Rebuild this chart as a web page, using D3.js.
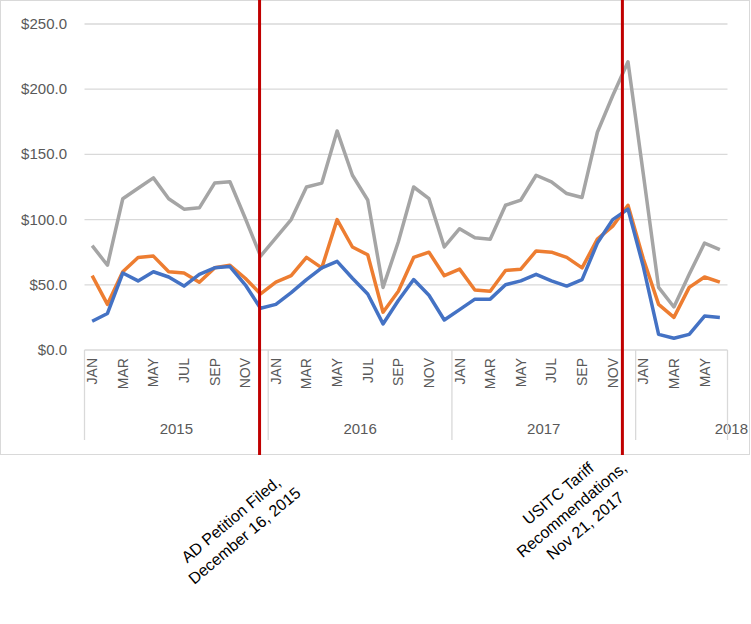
<!DOCTYPE html>
<html><head><meta charset="utf-8">
<script src="https://cdn.jsdelivr.net/npm/d3@7"></script>
<style>body{margin:0;background:#fff}text{font-family:"Liberation Sans",Arial,sans-serif;fill:#595959}</style>
</head><body><svg id="c" width="751" height="624"></svg>
<script>
var years = ["2015", "2016", "2017", "2018"];
var monthNames = ["JAN","FEB","MAR","APR","MAY","JUN","JUL","AUG","SEP","OCT","NOV","DEC"];
var gray = [80,65,116,124,132,116,108,109,128,129,101,72, 86,100,125,128,168,134,115,48,83,125,116,79, 93,86,85,111,115,134,129,120,117,167,195,221, 135,48,33,58,82,77];
var orange = [57,35,60,71,72,60,59,52,63,65,55,43, 52,57,71,63,100,79,73,29,45,71,75,57, 62,46,45,61,62,76,75,71,63,85,95,111, 70,35,25,48,56,52];
var blue = [22,28,59,53,60,56,49,58,63,64,50,32, 35,44,54,63,68,55,43,20,38,54,42,23, 31,39,39,50,53,58,53,49,54,82,100,108, 64,12,9,12,26,25];
var yTicks = [0,50,100,150,200,250];
var events = [
  {idx: 11, lines: ["AD Petition Filed,", "December 16, 2015"]},
  {idx: 34.7, lines: ["USITC Tariff", "Recommendations,", "Nov 21, 2017"]}
];

var svg = d3.select("#c");
var n = gray.length;
var cats = d3.range(n);
var x = d3.scaleBand().domain(cats).range([84.5, 727.5]);
var y = d3.scaleLinear().domain([0, 250]).range([350, 24]);
var cx = function (i) { return x(Math.floor(i)) + x.bandwidth() / 2 + (i % 1) * x.step(); };

// frame
svg.append("rect").attr("x", 0.5).attr("y", 0.5).attr("width", 749).attr("height", 454)
  .attr("fill", "none").attr("stroke", "#d9d9d9");

// gridlines + y labels
yTicks.forEach(function (t) {
  if (t > 0) svg.append("line").attr("x1", 84.5).attr("x2", 727.5).attr("y1", y(t)).attr("y2", y(t))
    .attr("stroke", "#d9d9d9").attr("stroke-width", 1.3);
  svg.append("text").attr("x", 67).attr("y", y(t) + 5).attr("text-anchor", "end")
    .attr("font-size", 15).text("$" + t.toFixed(1));
});

// x axis
svg.append("line").attr("x1", 84.5).attr("x2", 727.5).attr("y1", 350).attr("y2", 350).attr("stroke", "#d9d9d9").attr("stroke-width", 1.3);
cats.forEach(function (i) {
  if (i % 2 === 0) {
    svg.append("text").attr("transform", "translate(" + (cx(i) + 5) + ",358) rotate(-90)")
      .attr("text-anchor", "end").attr("font-size", 14).text(monthNames[i % 12]);
  }
});
years.forEach(function (yr, k) {
  var s = k * 12, e = Math.min(n, s + 12);
  var x0 = x(s), x1 = x(e - 1) + x.bandwidth();
  svg.append("line").attr("x1", x0).attr("x2", x0).attr("y1", 350).attr("y2", 440).attr("stroke", "#d9d9d9").attr("stroke-width", 1.3);
  svg.append("text").attr("x", k === 3 ? 748 : (x0 + x1) / 2).attr("y", 434)
    .attr("text-anchor", k === 3 ? "end" : "middle").attr("font-size", 15).text(yr);
});
svg.append("line").attr("x1", 727.5).attr("x2", 727.5).attr("y1", 350).attr("y2", 440).attr("stroke", "#d9d9d9").attr("stroke-width", 1.3);

// series
var line = d3.line().x(function (d, i) { return cx(i); }).y(function (d) { return y(d); });
[[gray, "#a5a5a5"], [orange, "#ed7d31"], [blue, "#4472c4"]].forEach(function (s) {
  svg.append("path").datum(s[0]).attr("d", line).attr("fill", "none")
    .attr("stroke", s[1]).attr("stroke-width", 3.5).attr("stroke-linejoin", "round");
});

// event markers + labels
events.forEach(function (ev, k) {
  var ex = cx(ev.idx) - 1;
  svg.append("line").attr("x1", ex).attr("x2", ex).attr("y1", 0).attr("y2", 455)
    .attr("stroke", "#c00000").attr("stroke-width", 3);
  var lx = k === 0 ? 238 : 572, ly = k === 0 ? 528 : 510;
  var t = svg.append("text").attr("transform", "translate(" + lx + "," + ly + ") rotate(-40)")
    .attr("text-anchor", "middle").attr("font-size", 16).style("fill", "#000");
  var n0 = ev.lines.length;
  ev.lines.forEach(function (l, j) {
    t.append("tspan").attr("x", 0).attr("y", (j - (n0 - 1) / 2) * 21 + 5).text(l);
  });
});
</script></body></html>
